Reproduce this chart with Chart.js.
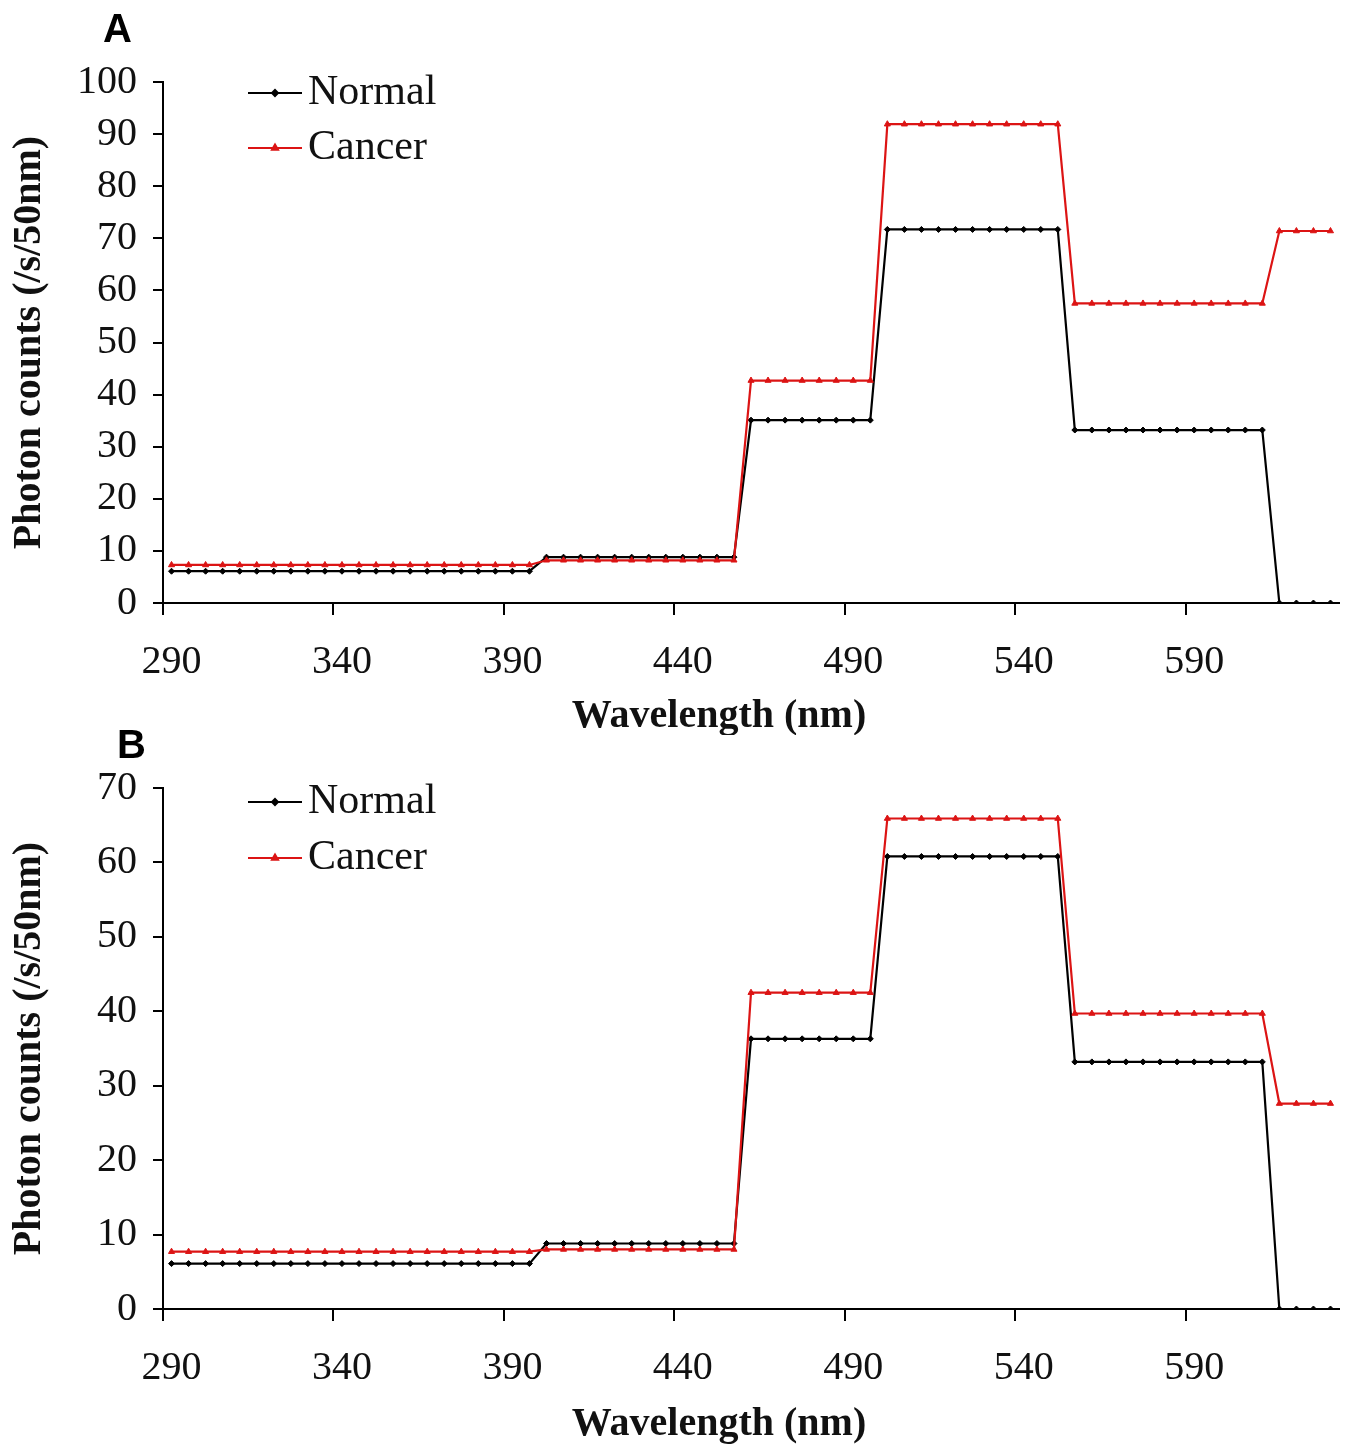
<!DOCTYPE html>
<html>
<head>
<meta charset="utf-8">
<script src="https://cdn.jsdelivr.net/npm/chart.js@4.4.1/dist/chart.umd.min.js"></script>
<style>
  html, body { margin: 0; padding: 0; background: #fff; }
  #wrap { position: relative; width: 1346px; height: 1449px; }
  .panel { position: absolute; left: 0; width: 1346px; }
  .tag { position: absolute; font-family: "Liberation Sans", Arial, sans-serif; font-weight: bold; font-size: 40px; line-height: 1; }
</style>
</head>
<body>
<div id="wrap">
  <div class="panel" style="top:0;height:735px"><canvas id="chart-a"></canvas></div>
  <div class="panel" style="top:735px;height:714px"><canvas id="chart-b"></canvas></div>
  <div class="tag" style="left:103px;top:8px">A</div>
  <div class="tag" style="left:117px;top:724px">B</div>
</div>
<script>
// --- DATOS ---
const wavelengths = [
  290, 295, 300, 305, 310, 315, 320, 325, 330, 335, 340, 345, 350, 355, 360, 365, 370, 375, 380, 385, 390, 395,
  400, 405, 410, 415, 420, 425, 430, 435, 440, 445, 450, 455,
  460, 465, 470, 475, 480, 485, 490, 495,
  500, 505, 510, 515, 520, 525, 530, 535, 540, 545, 550,
  555, 560, 565, 570, 575, 580, 585, 590, 595, 600, 605, 610,
  615, 620, 625, 630
];

const normalA = [
  6.1, 6.1, 6.1, 6.1, 6.1, 6.1, 6.1, 6.1, 6.1, 6.1, 6.1, 6.1, 6.1, 6.1, 6.1, 6.1, 6.1, 6.1, 6.1, 6.1, 6.1, 6.1,
  8.8, 8.8, 8.8, 8.8, 8.8, 8.8, 8.8, 8.8, 8.8, 8.8, 8.8, 8.8,
  35.1, 35.1, 35.1, 35.1, 35.1, 35.1, 35.1, 35.1,
  71.7, 71.7, 71.7, 71.7, 71.7, 71.7, 71.7, 71.7, 71.7, 71.7, 71.7,
  33.2, 33.2, 33.2, 33.2, 33.2, 33.2, 33.2, 33.2, 33.2, 33.2, 33.2, 33.2,
  0, 0, 0, 0
];
const cancerA = [
  7.3, 7.3, 7.3, 7.3, 7.3, 7.3, 7.3, 7.3, 7.3, 7.3, 7.3, 7.3, 7.3, 7.3, 7.3, 7.3, 7.3, 7.3, 7.3, 7.3, 7.3, 7.3,
  8.2, 8.2, 8.2, 8.2, 8.2, 8.2, 8.2, 8.2, 8.2, 8.2, 8.2, 8.2,
  42.7, 42.7, 42.7, 42.7, 42.7, 42.7, 42.7, 42.7,
  91.9, 91.9, 91.9, 91.9, 91.9, 91.9, 91.9, 91.9, 91.9, 91.9, 91.9,
  57.5, 57.5, 57.5, 57.5, 57.5, 57.5, 57.5, 57.5, 57.5, 57.5, 57.5, 57.5,
  71.4, 71.4, 71.4, 71.4
];

const normalB = [
  6.1, 6.1, 6.1, 6.1, 6.1, 6.1, 6.1, 6.1, 6.1, 6.1, 6.1, 6.1, 6.1, 6.1, 6.1, 6.1, 6.1, 6.1, 6.1, 6.1, 6.1, 6.1,
  8.8, 8.8, 8.8, 8.8, 8.8, 8.8, 8.8, 8.8, 8.8, 8.8, 8.8, 8.8,
  36.3, 36.3, 36.3, 36.3, 36.3, 36.3, 36.3, 36.3,
  60.8, 60.8, 60.8, 60.8, 60.8, 60.8, 60.8, 60.8, 60.8, 60.8, 60.8,
  33.2, 33.2, 33.2, 33.2, 33.2, 33.2, 33.2, 33.2, 33.2, 33.2, 33.2, 33.2,
  0, 0, 0, 0
];
const cancerB = [
  7.7, 7.7, 7.7, 7.7, 7.7, 7.7, 7.7, 7.7, 7.7, 7.7, 7.7, 7.7, 7.7, 7.7, 7.7, 7.7, 7.7, 7.7, 7.7, 7.7, 7.7, 7.7,
  8.0, 8.0, 8.0, 8.0, 8.0, 8.0, 8.0, 8.0, 8.0, 8.0, 8.0, 8.0,
  42.5, 42.5, 42.5, 42.5, 42.5, 42.5, 42.5, 42.5,
  65.9, 65.9, 65.9, 65.9, 65.9, 65.9, 65.9, 65.9, 65.9, 65.9, 65.9,
  39.7, 39.7, 39.7, 39.7, 39.7, 39.7, 39.7, 39.7, 39.7, 39.7, 39.7, 39.7,
  27.6, 27.6, 27.6, 27.6
];

const seriesNames = ['Normal', 'Cancer'];
const xTitle = 'Wavelength (nm)';
const yTitle = 'Photon counts (/s/50nm)';
const yMaxA = 100;
const yMaxB = 70;

const SERIF = '"Liberation Serif", "Times New Roman", serif';
const RED = '#dc1414';

// --- LEYENDA Y TITULO X (dibujados a mano) ---
const insideLegend = {
    id: 'insideLegend',
    afterDraw(chart, args, opts) {
        const ctx = chart.ctx;
        ctx.save();
        chart.data.datasets.forEach((ds, i) => {
            const y = opts.y[i];
            ctx.strokeStyle = ds.borderColor;
            ctx.lineWidth = 2;
            ctx.beginPath();
            ctx.moveTo(248, y);
            ctx.lineTo(302, y);
            ctx.stroke();
            Chart.helpers.drawPoint(ctx, {
                pointStyle: ds.pointStyle, radius: ds.pointRadius, rotation: 0, borderWidth: 1
            }, 275, y);
            ctx.fillStyle = ds.pointBackgroundColor;
            ctx.fill();
            ctx.fillStyle = '#111';
            ctx.font = '42px ' + SERIF;
            ctx.textBaseline = 'middle';
            ctx.textAlign = 'left';
            ctx.fillText(ds.label, 308, y);
        });
        // titulo del eje x, centrado como en la figura original
        ctx.font = 'bold 40px ' + SERIF;
        ctx.textAlign = 'center';
        ctx.textBaseline = 'middle';
        ctx.fillStyle = '#111';
        ctx.fillText(xTitle, 719, chart.chartArea.bottom + opts.titleDy);
        ctx.restore();
    }
};

function makeChart(canvasId, normal, cancer, yMax, layoutCfg) {
    const ctx = document.getElementById(canvasId).getContext('2d');
    return new Chart(ctx, {
        type: 'line',
        data: {
            labels: wavelengths,
            datasets: [{
                label: seriesNames[0],
                data: normal,
                borderColor: '#000',
                backgroundColor: '#000',
                pointBackgroundColor: '#000',
                pointBorderColor: '#000',
                pointStyle: 'rectRot',
                pointRadius: 3,
                pointBorderWidth: 1,
                borderWidth: 2.2,
                tension: 0,
                order: 1
            }, {
                label: seriesNames[1],
                data: cancer,
                borderColor: RED,
                backgroundColor: RED,
                pointBackgroundColor: RED,
                pointBorderColor: RED,
                pointStyle: 'triangle',
                pointRadius: 3.5,
                pointBorderWidth: 1,
                borderWidth: 2.2,
                tension: 0,
                order: 0
            }]
        },
        options: {
            responsive: true, maintainAspectRatio: false,
            animation: false,
            layout: { autoPadding: false, padding: { top: layoutCfg.top, right: 7, left: 6, bottom: 0 } },
            plugins: {
                legend: { display: false },
                tooltip: { enabled: false },
                insideLegend: { y: layoutCfg.legendY, titleDy: layoutCfg.titleDy }
            },
            scales: {
                x: {
                    type: 'category',
                    offset: true,
                    // la separacion de las etiquetas no debe encoger el area del grafico
                    afterFit: s => { s.height = layoutCfg.xHeight; s.paddingLeft = 0; s.paddingRight = 0; },
                    grid: {
                        offset: true,
                        drawOnChartArea: false,
                        drawTicks: true,
                        tickLength: 12,
                        lineWidth: 2,
                        color: c => (c.index !== undefined && c.index % 10 === 0) ? '#000' : 'rgba(0,0,0,0)'
                    },
                    border: { display: true, color: '#000', width: 2 },
                    ticks: {
                        autoSkip: false,
                        maxRotation: 0,
                        padding: 23,
                        color: '#111',
                        font: { family: SERIF, size: 40 },
                        callback: function (val, i) { return i % 10 === 0 ? this.getLabelForValue(val) : ''; }
                    },
                    title: { display: false }
                },
                y: {
                    min: 0, max: yMax,
                    afterFit: s => { s.width = 157; },
                    grid: {
                        drawOnChartArea: false,
                        drawTicks: true,
                        tickLength: 10,
                        lineWidth: 2,
                        color: '#000'
                    },
                    border: { display: true, color: '#000', width: 2 },
                    ticks: {
                        stepSize: 10,
                        padding: 16,
                        color: '#111',
                        font: { family: SERIF, size: 40 }
                    },
                    title: {
                        display: true,
                        text: yTitle,
                        color: '#111',
                        font: { family: SERIF, size: 40, weight: 'bold', lineHeight: 1.2 },
                        padding: 0
                    }
                }
            }
        },
        plugins: [insideLegend]
    });
}

makeChart('chart-a', normalA, cancerA, yMaxA, { top: 82, xHeight: 132, titleDy: 114, legendY: [93, 148] });
makeChart('chart-b', normalB, cancerB, yMaxB, { top: 53, xHeight: 140, titleDy: 116, legendY: [67, 123] });
</script>
</body>
</html>
